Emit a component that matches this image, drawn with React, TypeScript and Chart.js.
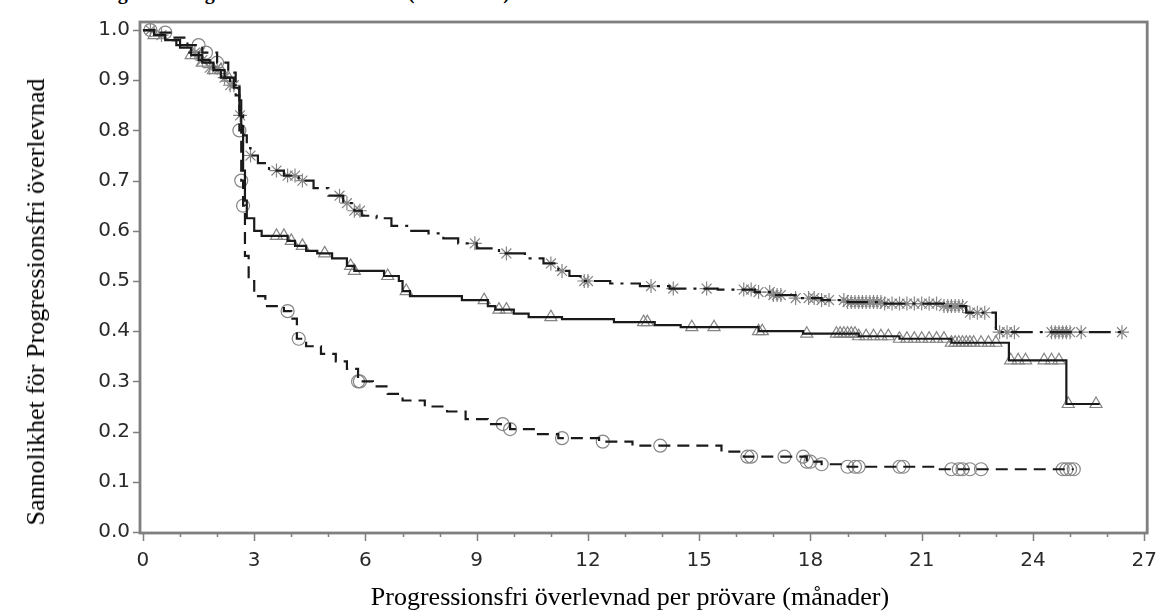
import React, { useEffect, useRef } from "react";
import { Chart, registerables } from "chart.js";

Chart.register(...registerables);

// ---- axis ticks ----
const xTickValues = [0, 3, 6, 9, 12, 15, 18, 21, 24, 27];
const xMinorTickValues = Array.from({ length: 28 }, (_, i) => i);
const yTickValues = [0, 0.1, 0.2, 0.3, 0.4, 0.5, 0.6, 0.7, 0.8, 0.9, 1.0];

// ---- arm A (dash-dot, asterisk censor marks) ----
const armATimes = [0, 0.3, 0.6, 0.9, 1.2, 1.5, 1.8, 2.1, 2.35, 2.5, 2.6, 2.7, 2.8, 2.9, 3.1, 3.4, 3.8, 4.2, 4.6, 5.0, 5.4, 5.7, 5.9, 6.3, 6.7, 7.2, 7.7, 8.1, 8.5, 9.0, 9.6, 10.3, 10.8, 11.2, 11.5, 11.8, 12.6, 13.4, 14.2, 15.5, 16.5, 17.0, 17.6, 18.3, 19.0, 20.0, 21.6, 22.2, 23.0];
const armAValues = [1.0, 0.99, 0.98, 0.97, 0.955, 0.94, 0.925, 0.905, 0.89, 0.87, 0.83, 0.79, 0.765, 0.75, 0.735, 0.72, 0.71, 0.7, 0.685, 0.67, 0.655, 0.64, 0.63, 0.625, 0.61, 0.6, 0.595, 0.585, 0.575, 0.565, 0.555, 0.545, 0.535, 0.52, 0.51, 0.5, 0.495, 0.49, 0.485, 0.483, 0.478, 0.472, 0.466, 0.462, 0.458, 0.455, 0.45, 0.437, 0.398];
const armAEnd = 26.5;
const armACensored = [0.2, 0.5, 1.4, 1.6, 1.8, 2.0, 2.2, 2.35, 2.45, 2.62, 2.9, 3.6, 3.9, 4.1, 4.3, 5.3, 5.5, 5.7, 5.85, 8.95, 9.8, 11.0, 11.3, 11.9, 12.0, 13.7, 14.3, 15.2, 16.2, 16.4, 16.6, 16.9, 17.0, 17.1, 17.2, 17.6, 17.95, 18.1, 18.3, 18.5, 18.9, 19.0, 19.1, 19.2, 19.3, 19.4, 19.5, 19.6, 19.7, 19.8, 19.9, 20.0, 20.2, 20.4, 20.6, 20.8, 21.0, 21.2, 21.4, 21.6, 21.7, 21.8, 21.9, 22.0, 22.1, 22.3, 22.5, 22.7, 23.1, 23.3, 23.5, 24.5, 24.6, 24.7, 24.8, 24.9, 25.0, 25.3, 26.4];

// ---- arm B (solid, triangle censor marks) ----
const armBTimes = [0, 0.3, 0.6, 1.0, 1.3, 1.6, 1.9, 2.2, 2.45, 2.6, 2.65, 2.7, 2.75, 2.8, 3.0, 3.2, 3.9, 4.1, 4.4, 4.7, 5.1, 5.5, 5.7, 6.5, 6.9, 7.0, 7.2, 8.6, 9.3, 9.5, 10.0, 10.4, 11.3, 12.7, 13.8, 14.5, 16.6, 17.8, 19.3, 20.4, 21.8, 23.35, 24.9];
const armBValues = [1.0, 0.99, 0.98, 0.965, 0.95, 0.935, 0.92, 0.905, 0.885, 0.86, 0.8, 0.72, 0.66, 0.625, 0.6, 0.59, 0.58, 0.57, 0.56, 0.555, 0.545, 0.53, 0.52, 0.51, 0.5, 0.48, 0.47, 0.462, 0.45, 0.443, 0.435, 0.428, 0.424, 0.418, 0.412, 0.408, 0.4, 0.395, 0.39, 0.385, 0.377, 0.342, 0.255];
const armBEnd = 25.8;
const armBCensored = [0.3, 1.3, 1.6, 1.9, 2.1, 2.3, 3.6, 3.8, 4.0, 4.3, 4.9, 5.6, 5.7, 6.6, 7.1, 9.2, 9.6, 9.8, 11.0, 13.5, 13.6, 14.8, 15.4, 16.6, 16.7, 17.9, 18.7, 18.8, 18.9, 19.0, 19.1, 19.2, 19.3, 19.5, 19.7, 19.9, 20.1, 20.4, 20.6, 20.8, 21.0, 21.2, 21.4, 21.6, 21.8, 21.9, 22.0, 22.1, 22.2, 22.3, 22.4, 22.6, 22.8, 23.0, 23.4, 23.6, 23.8, 24.3, 24.5, 24.7, 24.95, 25.7];

// ---- arm C (dashed, circle censor marks) ----
const armCTimes = [0, 0.4, 0.8, 1.2, 1.6, 2.0, 2.3, 2.5, 2.6, 2.65, 2.7, 2.75, 2.85, 3.0, 3.3, 3.8, 4.0, 4.15, 4.4, 4.8, 5.2, 5.5, 5.8, 6.2, 6.6, 7.0, 7.6, 8.2, 8.7, 9.3, 9.9, 10.6, 11.2, 12.3, 13.2, 15.6, 16.2, 17.9, 18.3, 19.0, 21.4];
const armCValues = [1.0, 0.995, 0.985, 0.97, 0.955, 0.935, 0.915, 0.89, 0.8, 0.7, 0.65, 0.55, 0.5, 0.47, 0.45, 0.44, 0.425, 0.385, 0.37, 0.355, 0.34, 0.325, 0.3, 0.29, 0.275, 0.262, 0.25, 0.24, 0.225, 0.215, 0.205, 0.195, 0.187, 0.18, 0.172, 0.16, 0.15, 0.14, 0.135, 0.13, 0.125];
const armCEnd = 25.1;
const armCCensored = [0.2, 0.6, 1.5, 1.7, 2.0, 2.6, 2.65, 2.7, 3.9, 4.2, 5.8, 5.85, 9.7, 9.9, 11.3, 12.4, 13.95, 16.3, 16.4, 17.3, 17.8, 17.9, 18.0, 18.3, 19.0, 19.2, 19.3, 20.4, 20.5, 21.8, 22.0, 22.1, 22.3, 22.6, 24.8, 24.9, 25.0, 25.1];

type Pt = { x: number; y: number };

function kmPoints(times: number[], values: number[], end: number): Pt[] {
  const pts = times.map((t, i) => ({ x: t, y: values[i] }));
  pts.push({ x: end, y: values[values.length - 1] });
  return pts;
}

function survivalAt(times: number[], values: number[], t: number): number {
  let v = values[0];
  for (let i = 0; i < times.length; i++) if (times[i] <= t) v = values[i];
  return v;
}

function censorPoints(times: number[], values: number[], cens: number[]): Pt[] {
  return cens.map((t) => ({ x: t, y: survivalAt(times, values, t) }));
}

const LINE = "#1a1a1a";
const MARK = "#858585";
const FRAME = "#7f7f7f";

const framePlugin = {
  id: "frameAndTicks",
  beforeDatasetsDraw(chart: any) {
    const { ctx, chartArea } = chart;
    const { left, right, top, bottom } = chartArea;
    const xs = chart.scales.x;
    const ys = chart.scales.y;
    ctx.save();
    ctx.strokeStyle = FRAME;
    ctx.lineWidth = 2.8;
    ctx.strokeRect(left, top, right - left, bottom - top);
    ctx.lineWidth = 1.5;
    ctx.beginPath();
    xMinorTickValues.forEach((m) => {
      const px = Math.round(xs.getPixelForValue(m)) + 0.5;
      const len = m % 3 === 0 ? 8 : 4;
      ctx.moveTo(px, bottom);
      ctx.lineTo(px, bottom + len);
    });
    yTickValues.forEach((v) => {
      const py = Math.round(ys.getPixelForValue(v)) + 0.5;
      ctx.moveTo(left - 7, py);
      ctx.lineTo(left, py);
    });
    ctx.stroke();
    ctx.restore();
  },
};

export default function App() {
  const ref = useRef<HTMLCanvasElement>(null);

  useEffect(() => {
    document.body.style.margin = "0";
    const lineDs = (data: Pt[], dash: number[]) => ({
      data,
      borderColor: LINE,
      borderWidth: 2.2,
      borderDash: dash,
      stepped: "before" as const,
      pointRadius: 0,
      fill: false,
      showLine: true,
    });
    const markDs = (data: Pt[], style: string, r: number) => ({
      data,
      showLine: false,
      pointStyle: style,
      pointRadius: r,
      borderColor: MARK,
      backgroundColor: "rgba(0,0,0,0)",
      pointBorderWidth: 1.2,
      borderWidth: 1.2,
    });

    const chart = new Chart(ref.current as HTMLCanvasElement, {
      type: "line",
      data: {
        datasets: [
          lineDs(kmPoints(armBTimes, armBValues, armBEnd), []),
          lineDs(kmPoints(armATimes, armAValues, armAEnd), [22, 7, 3, 7]),
          lineDs(kmPoints(armCTimes, armCValues, armCEnd), [12, 7]),
          markDs(censorPoints(armATimes, armAValues, armACensored), "star", 7),
          markDs(censorPoints(armBTimes, armBValues, armBCensored), "triangle", 7),
          markDs(censorPoints(armCTimes, armCValues, armCCensored), "circle", 6.5),
        ] as any,
      },
      options: {
        animation: false,
        responsive: false,
        devicePixelRatio: 1,
        layout: { padding: { left: 0, right: 13, top: 14, bottom: 0 } },
        plugins: {
          legend: { display: false },
          tooltip: { enabled: false },
          title: { display: false },
        },
        scales: {
          x: {
            type: "linear",
            min: -0.08,
            max: 27.08,
            grid: { display: false, drawTicks: false },
            border: { display: false },
            afterBuildTicks: (s: any) => {
              s.ticks = xTickValues.map((v) => ({ value: v }));
            },
            afterFit: (s: any) => {
              s.height = 81;
            },
            ticks: {
              padding: 16,
              color: "#2a2a2a",
              font: { family: "DejaVu Sans", size: 20 },
              maxRotation: 0,
              autoSkip: false,
              callback: (v: any) => String(v),
            },
          },
          y: {
            type: "linear",
            min: -0.002,
            max: 1.016,
            grid: { display: false, drawTicks: false },
            border: { display: false },
            afterBuildTicks: (s: any) => {
              s.ticks = yTickValues.map((v) => ({ value: v }));
            },
            afterFit: (s: any) => {
              s.width = 140;
            },
            ticks: {
              padding: 10,
              color: "#2a2a2a",
              font: { family: "DejaVu Sans", size: 20 },
              autoSkip: false,
              callback: (v: any) => Number(v).toFixed(1),
            },
          },
        },
      },
      plugins: [framePlugin],
    });
    return () => chart.destroy();
  }, []);

  return (
    <div style={{ position: "relative", width: 1173, height: 614, overflow: "hidden", background: "#fff" }}>
      <div
        style={{
          position: "absolute",
          left: 100,
          top: -19,
          font: 'bold 20px "Liberation Serif"',
          whiteSpace: "nowrap",
          color: "#000",
        }}
      >
        Figur 1: Progressionsfri överlevnad (ORR-data)
      </div>
      <canvas
        ref={ref}
        width={1173}
        height={614}
        style={{ position: "absolute", left: 0, top: 0, width: 1173, height: 614 }}
      />
      <div
        style={{
          position: "absolute",
          left: 630,
          top: 582,
          transform: "translateX(-50%)",
          font: '26px "Liberation Serif"',
          whiteSpace: "nowrap",
          color: "#000",
        }}
      >
        Progressionsfri överlevnad per prövare (månader)
      </div>
      <div
        style={{
          position: "absolute",
          left: 36,
          top: 302,
          transform: "translate(-50%, -50%) rotate(-90deg)",
          font: '26px "Liberation Serif"',
          whiteSpace: "nowrap",
          color: "#000",
        }}
      >
        Sannolikhet för Progressionsfri överlevnad
      </div>
    </div>
  );
}
